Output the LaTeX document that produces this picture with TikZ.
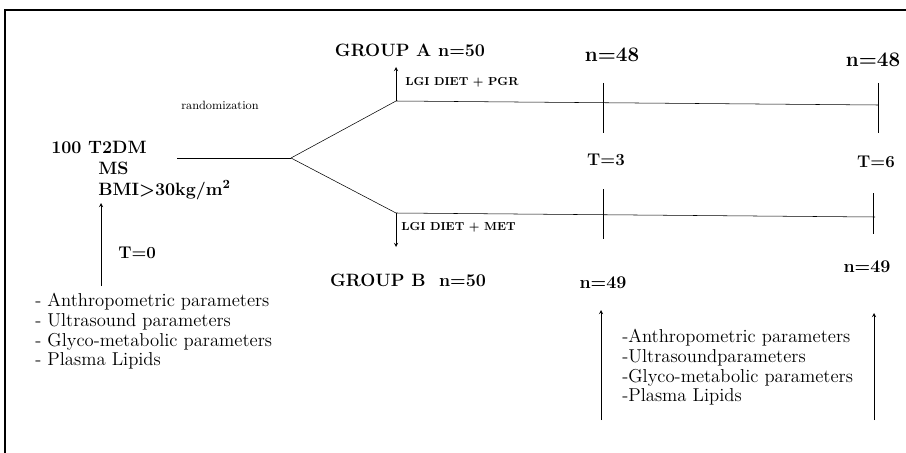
\documentclass[tikz,border=0pt]{standalone}
\usetikzlibrary{arrows}

\begin{document}
\begin{tikzpicture}[x=0.75pt, y=-0.75pt, >=stealth,
    grp/.style={font=\bfseries\fontsize{13.4}{15}\selectfont, inner sep=0pt},
    count/.style={font=\bfseries\fontsize{15.5}{17}\selectfont, inner sep=0pt},
    time/.style={font=\bfseries\fontsize{12.7}{14}\selectfont, inner sep=0pt},
    treat/.style={font=\bfseries\fontsize{8.7}{10}\selectfont, inner sep=0pt, anchor=west},
    params/.style={font=\fontsize{14}{14.8}\selectfont, align=left, inner sep=0pt, anchor=north west}]

  \useasboundingbox (0,0) rectangle (906,453);
  \draw[line width=1.5pt] (5,453) -- (5,10) -- (906,10);

  \node[grp, anchor=west] (pop) at (51,147) {100 T2DM};
  \node[grp, anchor=west] (ms) at (98,168) {MS};
  \node[grp, anchor=west] (bmi) at (98,190) {BMI>30kg/m\textsuperscript{2}};
  \node[font=\fontsize{9}{10}\selectfont, inner sep=0pt] (rand) at (220,105) {randomization};

  \coordinate (popEnd) at (177,158);
  \coordinate (split) at (291,158);
  \coordinate (aStart) at (396,101);
  \coordinate (aEnd) at (878,105);
  \coordinate (bStart) at (396,213);
  \coordinate (bEnd) at (875,217);

  \draw (popEnd) -- (split);
  \draw (split) -- (aStart) -- (aEnd);
  \draw (split) -- (bStart) -- (bEnd);

  \coordinate (pgr) at (396,67);
  \coordinate (met) at (396,247);
  \draw[->] (aStart) -- (pgr);
  \draw[->] (bStart) -- (met);
  \node[treat] (pgrLbl) at (405,82) {LGI DIET + PGR};
  \node[treat] (metLbl) at (401,227) {LGI DIET + MET};

  \node[grp] (grpA) at (410,50) {GROUP A n=50};
  \node[grp] (grpB) at (408,280) {GROUP B\ \ n=50};

  \draw (603,83) -- (603,133);
  \draw (878,83) -- (878,133);
  \draw (603,189) -- (603,239);
  \draw (873,193) -- (873,234);

  \node[count] (a3) at (612,55) {n=48};
  \node[count] (a6) at (873,60) {n=48};
  \node[time] (t3) at (606,160) {T=3};
  \node[time] (t6) at (876,162) {T=6};
  \node[grp] (b3) at (603,283) {n=49};
  \node[grp] (b6) at (867,267) {n=49};

  \node[params] (base) at (35,293) {- Anthropometric parameters\\- Ultrasound parameters\\- Glyco-metabolic parameters\\- Plasma Lipids};
  \node[time, anchor=west] (t0) at (118,253) {T=0};
  \coordinate (baseUp) at (101,286);
  \coordinate (baseTop) at (101,203);
  \draw[->] (baseUp) -- (baseTop);

  \node[params] (follow) at (622,329) {-Anthropometric parameters\\-Ultrasoundparameters\\-Glyco-metabolic parameters\\-Plasma Lipids};
  \coordinate (up3) at (601,420);
  \coordinate (up6) at (874,420);
  \coordinate (top3) at (601,310);
  \coordinate (top6) at (874,313);
  \draw[->] (up3) -- (top3);
  \draw[->] (up6) -- (top6);

\end{tikzpicture}
\end{document}
